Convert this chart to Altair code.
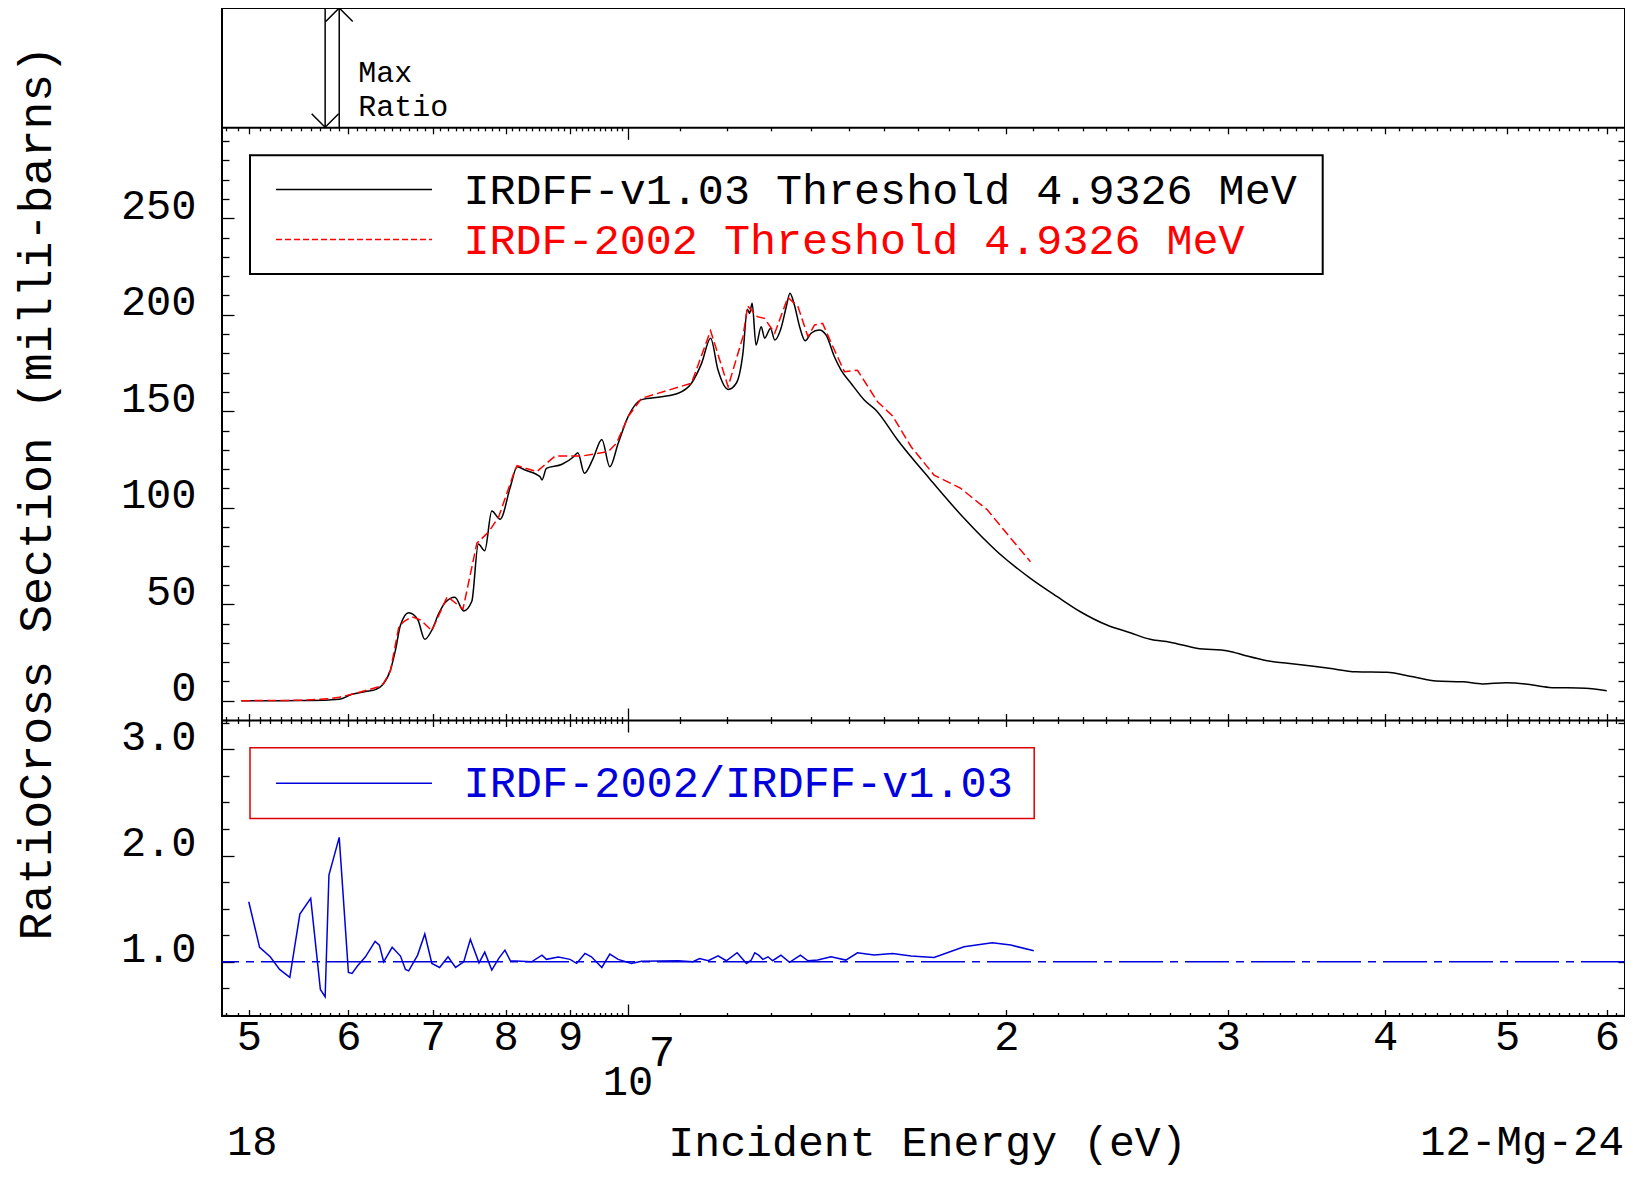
import altair as alt
import numpy as np
import pandas as pd

# ---------------- data (energies in MeV) ----------------
irdff_e = [4.9326, 5.2, 5.5, 5.79, 5.90, 6.04, 6.19, 6.31, 6.385, 6.48, 6.54, 6.60, 6.70, 6.81,
           6.90, 6.99, 7.08, 7.16, 7.29, 7.41, 7.52, 7.61, 7.70, 7.80, 7.92, 8.07, 8.17, 8.29,
           8.52, 8.55, 8.62, 8.87, 9.06, 9.13, 9.24, 9.39, 9.54, 9.68, 9.83, 10.01, 10.26, 10.64,
           10.97, 11.24, 11.45, 11.64, 11.80, 12.02, 12.20, 12.35, 12.45, 12.50, 12.56, 12.65,
           12.77, 12.85, 12.99, 13.09, 13.24, 13.37, 13.46, 13.57, 13.70, 13.84, 13.99, 14.20,
           14.38, 14.60, 14.78, 15.05, 15.42, 15.75, 16.39, 17.41, 18.51, 19.67, 20.90, 21.95,
           22.90, 24.04, 25.09, 26.02, 26.98, 28.33, 30.0, 31.0, 32.0, 34.0, 36.1, 37.9, 40.1,
           42.1, 43.9, 46.1, 47.8, 49.9, 51.7, 54.0, 57.7, 60.0]
irdff_xs = [0, 0, 0.1, 0.4, 0.7, 3.3, 4.7, 5.9, 8.1, 15.9, 26.3, 39.2, 45.6, 42.2,
            31.8, 36.6, 45.3, 50.8, 53.6, 46.5, 51.5, 81.2, 77.7, 98.3, 94.0, 110.9, 121.2, 119.5,
            116.1, 114.4, 120.4, 122.5, 126.4, 128.5, 117.8, 125.6, 135.4, 121.2, 133.4, 147.2, 156.0, 157.5,
            159.3, 164.5, 174.8, 187.8, 171.3, 161.3, 164.5, 180.0, 202.8, 200.7, 205.9, 184.3,
            193.8, 187.8, 192.9, 186.9, 192.9, 204.1, 211.1, 205.0, 193.8, 186.5, 190.4, 192.1,
            189.5, 178.2, 171.3, 164.5, 155.8, 150.6, 135.1, 114.4, 94.5, 77.2, 63.4, 53.9,
            46.1, 39.2, 35.2, 31.8, 30.3, 27.2, 25.8, 23.3, 21.1, 18.9, 16.8, 15.0, 14.7,
            12.4, 10.2, 9.8, 8.7, 9.3, 8.7, 6.9, 6.4, 5.2]

irdf_e = [4.9326, 5.5, 5.79, 5.90, 6.08, 6.35, 6.40, 6.48, 6.53, 6.58, 6.64, 6.74, 6.85, 6.99,
          7.19, 7.40, 7.59, 7.76, 7.90, 8.12, 8.17, 8.47, 8.76, 9.20, 9.65, 9.80, 10.01, 10.26,
          11.24, 11.64, 12.02, 12.35, 12.46, 12.54, 12.68, 12.85, 13.09, 13.41, 13.66, 13.91,
          14.08, 14.29, 14.56, 14.87, 15.23, 15.80, 16.24, 16.80, 17.52, 18.40, 19.32, 19.91, 20.90]
irdf_xs = [0, 0.2, 1.0, 1.8, 3.8, 7.3, 9.0, 15.5, 27.0, 38.3, 41.0, 43.5, 41.8, 36.3,
           54.0, 47.5, 81.6, 87.6, 95.3, 117.8, 121.8, 118.7, 126.8, 126.8, 129.0, 133.4, 147.2, 156.7,
           164.5, 191.7, 162.7, 188.6, 204.5, 202.4, 199.0, 198.1, 190.4, 209.0, 204.1, 188.6,
           194.7, 195.5, 183.4, 170.5, 171.2, 154.9, 147.5, 131.6, 116.9, 110.0, 98.8, 88.4, 72.0]

ratio_e = [5.00, 5.10, 5.20, 5.29, 5.39, 5.49, 5.60, 5.70, 5.75, 5.79, 5.90, 6.00, 6.04, 6.10,
           6.19, 6.30, 6.35, 6.40, 6.50, 6.60, 6.66, 6.70, 6.81, 6.90, 6.99, 7.09, 7.20, 7.30,
           7.41, 7.50, 7.62, 7.70, 7.80, 7.90, 7.99, 8.07, 8.39, 8.55, 8.62, 8.81, 9.00, 9.11,
           9.25, 9.36, 9.54, 9.68, 9.83, 10.07, 10.26, 10.97, 11.27, 11.41, 11.59, 11.80, 11.98,
           12.22, 12.43, 12.54, 12.62, 12.71, 12.81, 12.93, 13.04, 13.24, 13.45, 13.72, 13.91,
           14.16, 14.51, 14.91, 15.23, 15.70, 16.24, 16.80, 17.52, 18.51, 19.49, 20.16, 21.03]
ratio_v = [1.565, 1.136, 1.047, 0.928, 0.853, 1.449, 1.597, 0.74, 0.67, 1.816, 2.171, 0.90, 0.89, 0.96,
           1.047, 1.192, 1.157, 1.0, 1.136, 1.054, 0.928, 0.915, 1.063, 1.261, 0.985, 0.947, 1.047, 0.947,
           1.0, 1.211, 0.99, 1.091, 0.922, 1.032, 1.11, 1.009, 1.0, 1.063, 1.023, 1.044, 1.023, 0.985,
           1.079, 1.047, 0.947, 1.073, 1.023, 0.985, 1.004, 1.01, 1.0, 1.03, 1.01, 1.057, 1.01,
           1.085, 0.985, 1.016, 1.085, 1.063, 1.023, 1.047, 1.01, 1.063, 0.994, 1.063, 1.01,
           1.016, 1.047, 1.016, 1.085, 1.063, 1.079, 1.054, 1.041, 1.141, 1.179, 1.157, 1.104]

series_names = ["IRDFF-v1.03 Threshold 4.9326 MeV", "IRDF-2002 Threshold 4.9326 MeV",
                "IRDF-2002/IRDFF-v1.03"]
y_title = "RatioCross Section (milli-barns)"
x_title = "Incident Energy (eV)"
corner_left = "18"
corner_right = "12-Mg-24"
max_label = ["Max", "Ratio"]

x_label_vals = [5000000, 6000000, 7000000, 8000000, 9000000, 10000000,
                20000000, 30000000, 40000000, 50000000, 60000000]
x_tick_vals = list(range(4800000, 10000000, 100000)) + list(range(10000000, 62000000, 1000000))
xs_tick_vals = list(range(-10, 300, 10))
xs_label_vals = [0, 50, 100, 150, 200, 250]
ratio_tick_vals = [0.5, 0.75, 1.0, 1.25, 1.5, 1.75, 2.0, 2.25, 2.5, 2.75, 3.0, 3.25]
ratio_label_vals = [1.0, 2.0, 3.0]

assert len(irdff_e) == len(irdff_xs)
assert len(irdf_e) == len(irdf_xs)
assert len(ratio_e) == len(ratio_v)

df_black = pd.DataFrame({"E": np.array(irdff_e) * 1e6, "xs": irdff_xs})
df_red = pd.DataFrame({"E": np.array(irdf_e) * 1e6, "xs": irdf_xs})
df_ratio = pd.DataFrame({"E": np.array(ratio_e) * 1e6, "r": ratio_v})
e_max = float(df_ratio["E"].iloc[int(np.argmax(ratio_v))])
e_min = float(df_ratio["E"].iloc[int(np.argmin(ratio_v))])
df_one = pd.DataFrame({"k": [0]})

# ---------------- layout ----------------
W, H = 1403, 1008
B1, B2 = 119.3, 712.0
FONT = "Liberation Mono"
BLUE = "#0000dd"
BOTTOM_TEXT_Y = 1134

xsc = alt.Scale(type="log", domain=[4.761e6, 6.2035e7], nice=False)
s1 = alt.Scale(domain=[0, 1], range=[B1, 0], nice=False, zero=False)
s2 = alt.Scale(domain=[-10, 297.1], range=[B2, B1], nice=False, zero=False)
s3 = alt.Scale(domain=[0.49, 3.275], range=[H, B2], nice=False, zero=False)

XT = {"condition": [
        {"test": "datum.value == 10000000", "value": 12},
        {"test": "datum.value % 10000000 == 0 || (datum.value < 10000000 && datum.value % 1000000 == 0)",
         "value": 6.5}],
      "value": 3.5}
YT2 = {"condition": {"test": "datum.value % 50 == 0", "value": 12}, "value": 7}
YT3 = {"condition": {"test": "datum.value % 1 == 0", "value": 12}, "value": 7}


def xtick_axis(orient, offset, dom):
    return alt.Axis(orient=orient, offset=offset, values=x_tick_vals, tickSize=XT, labels=False,
                    domain=dom, domainColor="black", domainWidth=2, tickColor="black",
                    tickWidth=1.3, grid=False, title=None)


def ytick_axis(orient, offset, vals, size):
    return alt.Axis(orient=orient, offset=offset, values=vals, tickSize=size, labels=False,
                    domain=False, tickColor="black", tickWidth=1.3, grid=False, title=None)


ax_x_lab = alt.Axis(orient="bottom", offset=0, values=x_label_vals, ticks=False, tickSize=0,
                    domain=False, grid=False,
                    labelExpr="datum.value == 10000000 ? '10' : (datum.value < 10000000 ? "
                              "format(datum.value / 1000000, 'd') : format(datum.value / 10000000, 'd'))",
                    labelPadding={"condition": {"test": "datum.value == 10000000", "value": 65},
                                  "value": 20},
                    labelBaseline="middle", labelFontSize=42, labelFlush=False, labelOverlap=False,
                    title=x_title, titleX=705, titleY=BOTTOM_TEXT_Y - H, titleAlign="center",
                    titleBaseline="middle", titleFontSize=43.2)
ax_x_sup = alt.Axis(orient="bottom", offset=0, values=[10000000], ticks=False, tickSize=0,
                    domain=False, grid=False, labelExpr="'7'", labelPadding=36, labelOffset=34,
                    labelBaseline="middle", labelFontSize=44, labelFlush=False,
                    labelOverlap=False, title=None)
ax_y2_lab = alt.Axis(orient="left", offset=0, values=xs_label_vals, ticks=False, tickSize=0,
                     domain=False, grid=False, labelPadding=26, labelBaseline="alphabetic",
                     labelFontSize=42, format="d", labelFlush=False, labelOverlap=False,
                     title=y_title, titleX=-185.5, titleY=484.6, titleAngle=270,
                     titleAlign="center", titleBaseline="middle", titleFontSize=46.6)
ax_y3_lab = alt.Axis(orient="left", offset=0, values=ratio_label_vals, ticks=False, tickSize=0,
                     domain=False, grid=False, labelPadding=26, labelBaseline="alphabetic",
                     labelFontSize=42, format=".1f", labelFlush=False, labelOverlap=False,
                     title=None)

# ---------------- layers ----------------
black = alt.Chart(df_black).mark_line(color="black", strokeWidth=1.5, interpolate="monotone").encode(
    x=alt.X("E:Q", scale=xsc, axis=ax_x_lab),
    y=alt.Y("xs:Q", scale=s2, axis=ax_y2_lab))

red = alt.Chart(df_red).mark_line(color="#ff0000", strokeWidth=1.5, strokeDash=[9, 4]).encode(
    x=alt.X("E:Q", scale=xsc, axis=xtick_axis("bottom", -(H - B1), True)),
    y=alt.Y("xs:Q", scale=s2, axis=ytick_axis("right", -W, xs_tick_vals, YT2)))

host_a = alt.Chart(df_black).mark_point(opacity=0).encode(
    x=alt.X("E:Q", scale=xsc, axis=xtick_axis("top", -B2, True)),
    y=alt.Y("xs:Q", scale=s2, axis=ytick_axis("left", -W, xs_tick_vals, 7)))

blue = alt.Chart(df_ratio).mark_line(color=BLUE, strokeWidth=1.5).encode(
    x=alt.X("E:Q", scale=xsc, axis=ax_x_sup),
    y=alt.Y("r:Q", scale=s3, axis=ax_y3_lab))

unity = alt.Chart(df_one).mark_rule(color=BLUE, strokeWidth=1.5, strokeDash=[44, 7, 8, 7]).encode(
    y=alt.Y(datum=1, scale=s3, axis=ytick_axis("right", -W, ratio_tick_vals, YT3)))

host_b = alt.Chart(df_ratio).mark_point(opacity=0).encode(
    x=alt.X("E:Q", scale=xsc, axis=xtick_axis("bottom", -(H - B2), False)),
    y=alt.Y("r:Q", scale=s3, axis=ytick_axis("left", -W, ratio_tick_vals, 7)))

host_c = alt.Chart(df_ratio).mark_point(opacity=0).encode(
    x=alt.X("E:Q", scale=xsc, axis=xtick_axis("top", -H, False)),
    y=alt.Y("r:Q", scale=s3, axis=None))

df_arrows = pd.DataFrame({"E": [e_min, e_max]})
arrows = alt.Chart(df_arrows).mark_rule(color="black", strokeWidth=1.5).encode(
    x=alt.X("E:Q", scale=xsc, axis=None),
    y=alt.Y(datum=0, scale=s1, axis=None), y2=alt.Y2(datum=1))
head_down = alt.Chart(pd.DataFrame({"E": [e_min]})).mark_point(
    shape="M-1,-1L0,0L1,-1", size=729, filled=False, color="black", strokeWidth=1.5, opacity=1).encode(
    x=alt.X("E:Q", scale=xsc, axis=None), y=alt.Y(datum=0, scale=s1, axis=None))
head_up = alt.Chart(pd.DataFrame({"E": [e_max]})).mark_point(
    shape="M-1,1L0,0L1,1", size=729, filled=False, color="black", strokeWidth=1.5, opacity=1).encode(
    x=alt.X("E:Q", scale=xsc, axis=None), y=alt.Y(datum=1, scale=s1, axis=None))
df_max = pd.DataFrame({"E": [e_max]})
txt_max = alt.Chart(df_max).mark_text(align="left", baseline="middle", dx=19, font=FONT,
                                      fontSize=30, color="black").encode(
    x=alt.X("E:Q", scale=xsc, axis=None), y=alt.value(65), text=alt.value(max_label[0]))
txt_ratio = alt.Chart(df_max).mark_text(align="left", baseline="middle", dx=19, font=FONT,
                                        fontSize=30, color="black").encode(
    x=alt.X("E:Q", scale=xsc, axis=None), y=alt.value(99), text=alt.value(max_label[1]))

# legends
leg1_box = alt.Chart(df_one).mark_rect(fill="white", stroke="black", strokeWidth=2).encode(
    x=alt.value(28), x2=alt.value(1100.7), y=alt.value(147.2), y2=alt.value(266))
leg1_l1 = alt.Chart(df_one).mark_rule(color="black", strokeWidth=1.5).encode(
    x=alt.value(54), x2=alt.value(210), y=alt.value(181.6))
leg1_l2 = alt.Chart(df_one).mark_rule(color="#ff0000", strokeWidth=1.5, strokeDash=[6, 3]).encode(
    x=alt.value(54), x2=alt.value(210), y=alt.value(231.5))
leg1_t1 = alt.Chart(df_one).mark_text(align="left", baseline="middle", font=FONT, fontSize=43.4,
                                      color="black").encode(
    x=alt.value(241.5), y=alt.value(182.6), text=alt.value(series_names[0]))
leg1_t2 = alt.Chart(df_one).mark_text(align="left", baseline="middle", font=FONT, fontSize=43.4,
                                      color="#ff0000").encode(
    x=alt.value(241.5), y=alt.value(232.6), text=alt.value(series_names[1]))
leg2_box = alt.Chart(df_one).mark_rect(fill="white", stroke="#dd0000", strokeWidth=1.5).encode(
    x=alt.value(28), x2=alt.value(812.2), y=alt.value(739.8), y2=alt.value(810.6))
leg2_l = alt.Chart(df_one).mark_rule(color=BLUE, strokeWidth=1.5).encode(
    x=alt.value(54), x2=alt.value(210), y=alt.value(775.2))
leg2_t = alt.Chart(df_one).mark_text(align="left", baseline="middle", font=FONT, fontSize=43.6,
                                     color=BLUE).encode(
    x=alt.value(241.5), y=alt.value(776), text=alt.value(series_names[2]))

corner_l = alt.Chart(df_one).mark_text(align="left", baseline="middle", font=FONT, fontSize=42,
                                       color="black").encode(
    x=alt.value(5), y=alt.value(BOTTOM_TEXT_Y), text=alt.value(corner_left))
corner_r = alt.Chart(df_one).mark_text(align="right", baseline="middle", font=FONT, fontSize=42.5,
                                       color="black").encode(
    x=alt.value(1402), y=alt.value(BOTTOM_TEXT_Y), text=alt.value(corner_right))

chart = alt.layer(
    black, red, host_a, blue, unity, host_b, host_c,
    arrows, head_down, head_up, txt_max, txt_ratio,
    leg1_box, leg1_l1, leg1_l2, leg1_t1, leg1_t2, leg2_box, leg2_l, leg2_t,
    corner_l, corner_r,
).resolve_scale(y="independent").resolve_axis(x="independent", y="independent").properties(
    width=W, height=H,
    padding={"left": 214, "top": 0, "right": 0, "bottom": 153},
    autosize=alt.AutoSizeParams(type="none"),
).configure_view(stroke="black", strokeWidth=2).configure_axis(
    labelFont=FONT, titleFont=FONT, labelColor="black", titleColor="black",
    titleFontWeight="normal", grid=False)

chart.save("out.html", embed_options={"renderer": "svg", "actions": False})
